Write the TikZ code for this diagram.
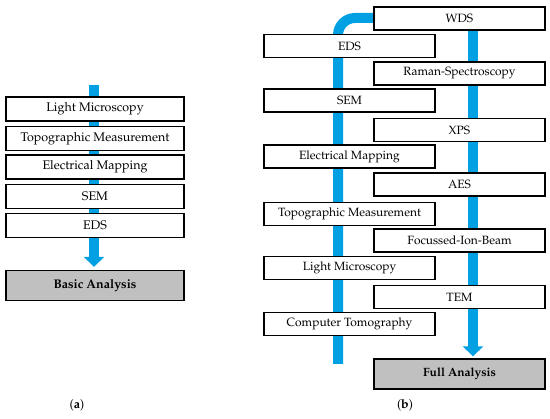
\documentclass[tikz,border=0pt]{standalone}
\usepackage[T1]{fontenc}
\usepackage{mathpazo}
\usepackage{tikz}
\usetikzlibrary{arrows.meta,positioning}
\definecolor{AnaBlue}{RGB}{0,160,227}
\definecolor{AnaGray}{RGB}{192,192,192}
\tikzset{
  ana/box/.style={
    draw=black,
    line width=1.3pt,
    fill=white,
    align=center,
    text=black,
    minimum height=23pt,
    inner sep=0pt
  },
  ana/result/.style={
    ana/box,
    fill=AnaGray,
    minimum height=30pt,
    font=\bfseries
  },
  ana/flow/.style={-{Triangle[length=10pt,width=20pt]}, line width=10pt, draw=AnaBlue},
  ana/pipe/.style={line width=10pt, draw=AnaBlue, rounded corners=17pt},
  ana/caption/.style={font=\fontsize{12.5}{14}\selectfont, text=black}
}

\begin{document}
\begin{tikzpicture}[x=1pt,y=-1pt]
  \useasboundingbox (0,0) rectangle (550,419);
  % (a) basic analysis
  \coordinate (aTop) at (94,85);
  \node[ana/result,minimum width=178pt,font=\fontsize{12.5}{14}\selectfont\bfseries] (aRes) at (95,285.5) {Basic Analysis};
  \draw[ana/flow,shorten >=3pt] (aTop) -- (aTop |- aRes.north);
  \begin{scope}[every node/.style={ana/box,minimum width=178pt,minimum height=24pt,font=\fontsize{12.5}{14}\selectfont}]
    \node (aLM) at (95,109) {Light Microscopy};
    \node (aTM) at (95,138.5) {Topographic Measurement};
    \node (aEM) at (95,167) {Electrical Mapping};
    \node (aSEM) at (95,196.5) {SEM};
    \node (aEDS) at (95,225.5) {EDS};
  \end{scope}
  \node[ana/caption] (aCap) at (77,405) {(\textbf{a})};

  % (b) full analysis
  \coordinate (bBot) at (338,364);
  \coordinate (bBend) at (338,18);
  \coordinate (bJoin) at (385,18);
  \draw[ana/pipe] (bBot) -- (bBend) -- (bJoin);
  \node[ana/result,minimum width=171pt,font=\fontsize{12}{14}\selectfont\bfseries] (bRes) at (459.5,374) {Full Analysis};
  \coordinate (bTop) at (473,25);
  \draw[ana/flow,shorten >=2pt] (bTop) -- (bTop |- bRes.north);
  \begin{scope}[every node/.style={ana/box,minimum width=171pt,font=\fontsize{12}{14}\selectfont}]
    \node (bWDS) at (459.5,18.5) {WDS};
    \node (bRaman) at (459.5,73.5) {Raman-Spectroscopy};
    \node (bXPS) at (459.5,130) {XPS};
    \node (bAES) at (459.5,184.5) {AES};
    \node (bFIB) at (459.5,240.5) {Focussed-Ion-Beam};
    \node (bTEM) at (459.5,297) {TEM};
    \node (bEDS) at (349.5,46) {EDS};
    \node (bSEM) at (349.5,100.5) {SEM};
    \node (bEM) at (349.5,156.5) {Electrical Mapping};
    \node (bTM) at (349.5,214) {Topographic Measurement};
    \node (bLM) at (349.5,268) {Light Microscopy};
    \node (bCT) at (349.5,324) {Computer Tomography};
  \end{scope}
  \node[ana/caption] (bCap) at (405,405) {(\textbf{b})};
\end{tikzpicture}
\end{document}
